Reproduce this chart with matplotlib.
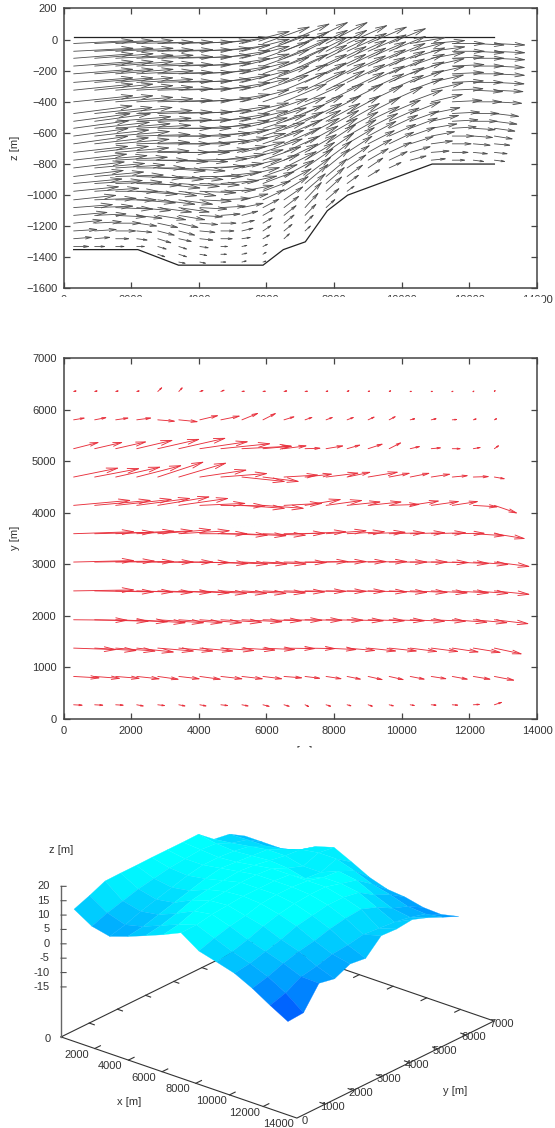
import numpy as np
import matplotlib
matplotlib.use('Agg')
import matplotlib.pyplot as plt
from matplotlib.colors import LinearSegmentedColormap, Normalize
from matplotlib.patches import Rectangle
from mpl_toolkits.mplot3d import proj3d

plt.rcParams['font.family'] = ['Liberation Sans', 'DejaVu Sans']

W, H = 555, 1128

# arrow tails along x, shared by the two top plots
x_tails = [300, 922, 1544, 2166, 2788, 3410, 4032, 4654, 5276, 5898, 6520,
           7142, 7764, 8386, 9008, 9630, 10252, 10874, 11496, 12118, 12740]

# top plot: x-z section, arrow rows and components (in units of 10 m)
z_rows = [-25, -75, -120, -170, -220, -275, -325, -400, -475, -525, -570, -620,
          -670, -725, -775, -825, -880, -925, -975, -1030, -1080, -1130, -1180,
          -1230, -1280, -1330, -1380, -1430]

section_u = [
    [181,178,175,172,168,163,155,150,145,142,138,130,126,122,118,112,108,104,100,96,95],
    [181,178,175,172,168,163,155,150,145,142,137,130,125,121,117,112,108,104,100,96,95],
    [181,178,175,172,168,163,156,150,145,141,136,129,124,120,116,111,107,103,99,96,95],
    [181,178,175,172,168,163,156,150,145,141,135,128,123,119,115,110,106,102,99,95,94],
    [180,178,175,172,168,163,156,150,145,140,134,127,122,118,114,109,105,102,98,94,94],
    [180,177,174,171,167,163,156,150,145,140,133,126,120,116,112,108,104,100,97,93,93],
    [180,177,174,171,167,163,156,150,144,139,132,124,118,114,110,106,102,99,96,92,90],
    [180,177,174,171,167,163,157,150,144,138,130,122,115,110,107,103,100,97,93,89,86],
    [178,175,172,169,166,163,157,150,143,136,127,117,108,103,100,97,94,90,86,81,77],
    [172,170,168,166,164,161,156,149,141,133,124,113,105,100,97,93,90,86,81,76,72],
    [168,167,166,165,163,160,155,148,139,131,121,110,101,96,92,89,85,81,76,70,66],
    [166,165,164,163,161,158,153,146,137,128,118,106,97,90,87,83,79,74,68,62,58],
    [165,164,163,162,160,157,152,144,134,125,114,102,92,85,82,77,73,68,61,55,51],
    [165,164,162,160,158,155,149,141,131,121,110,97,86,78,74,70,64,58,52,47,43],
    [162,160,158,156,154,150,145,137,127,117,105,92,80,70,64,58,52,47,42,36,36],
    [155,153,150,148,146,142,138,131,122,112,100,87,74,60,48,40],
    [152,150,146,143,140,136,132,125,116,106,93,80,66,50,38],
    [148,146,142,137,130,125,122,117,108,97,85,72,58,38],
    [138,136,130,125,120,115,112,108,98,86,76,64,50,25],
    [130,128,125,120,115,105,98,92,82,68,60,52,42],
    [120,118,115,105,105,95,85,78,68,52,48,42,30],
    [104,98,94,80,88,82,72,62,52,40,40,36,25],
    [89,84,79,64,64,62,58,50,42,32,34,28],
    [74,69,64,50,54,52,50,44,38,28,28,20],
    [58,50,44,36,44,42,44,39,30,24,20],
    [50,35,30,28,30,28,30,25,20,18],
    [0,0,0,0,26,28,26,22,20,14],
    [0,0,0,0,0,24,22,20,18,14],
]

section_w = [
    [2,2,2,1,1,1,2,4,8,11,13,14,14,12,11,10,4,2,0,-1,-1],
    [2,2,2,1,1,1,2,4,8,11,13,14,14,12,11,10,6,3,0,-1,-1],
    [3,3,2,2,1,1,2,5,8,11,13,14,13,12,11,10,7,4,1,0,-1],
    [3,3,3,2,1,1,2,5,8,11,13,14,13,12,11,10,8,5,1,0,-1],
    [3,3,3,2,1,1,2,5,8,11,13,13,13,12,11,10,8,5,1,0,-1],
    [3,3,3,2,1,1,2,5,8,11,12,13,13,12,11,10,8,5,1,0,-1],
    [4,4,3,2,1,1,2,5,8,10,12,13,13,12,11,10,8,5,1,-1,-1],
    [4,4,3,2,1,1,2,5,8,10,12,12,12,12,11,10,8,5,1,0,-1],
    [5,4,4,2,1,1,2,5,7,10,11,12,12,12,11,9,8,4,1,0,-2],
    [5,5,3,2,1,1,2,5,7,9,11,12,12,12,10,9,7,4,1,0,-2],
    [5,4,3,2,0,0,2,5,7,9,11,12,12,11,10,9,7,3,1,-1,-2],
    [5,4,3,1,0,0,2,4,7,9,11,12,12,11,10,8,6,3,0,-1,-2],
    [5,4,3,1,0,0,2,4,7,9,11,12,13,11,9,8,5,2,0,-1,-1],
    [4,4,3,1,0,0,2,4,7,9,11,12,13,11,9,7,4,1,0,-1,-1],
    [4,3,2,0,-1,-1,1,4,7,9,11,12,13,10,8,6,3,1,0,-1,-1],
    [4,3,2,0,-2,-2,1,3,6,9,11,13,13,9,7,4],
    [4,3,1,-1,-2,-2,0,3,6,8,11,13,12,8,5],
    [3,2,1,-1,-3,-2,-1,2,5,8,10,13,11,6],
    [3,2,0,-2,-3,-3,-1,1,4,7,10,12,10,4],
    [3,1,0,-2,-3,-3,-1,1,4,7,9,12,8],
    [2,1,-1,-2,-3,-3,-1,1,3,6,8,10,6],
    [2,1,-1,-2,-3,-3,-1,1,3,5,7,8,5],
    [2,1,0,-2,-3,-3,-1,0,2,4,6,6],
    [1,1,0,-1,-3,-3,-1,0,2,4,5,4],
    [1,1,0,-1,-3,-2,-1,0,1,3,4],
    [0,0,0,0,-2,-2,-1,0,1,2],
    [0,0,0,0,-2,-2,-1,0,1,2],
    [0,0,0,0,0,-1,-1,0,1,1],
]

surface_x = [300, 12740]
surface_z_top = 15
bottom_x = [300, 2200, 3400, 5900, 6500, 7150, 7800, 8400, 10900, 12740]
bottom_z = [-1350, -1350, -1450, -1450, -1350, -1300, -1100, -1000, -800, -800]

# middle plot: x-y plan view, arrow rows and components (in units of 10 m)
y_rows = [6350, 5800, 5240, 4690, 4140, 3590, 3040, 2480, 1920, 1370, 820, 270]

plan_u = [
    [13,13,13,13,16,14,15,15,13,13,14,13,11,11,10,10,9,9,7,6,6],
    [37,39,42,47,55,60,58,60,52,42,35,26,24,24,23,23,19,20,19,14,12],
    [78,86,94,110,127,142,146,150,152,89,71,50,55,43,47,39,33,33,29,26,17],
    [136,136,136,136,139,144,142,141,131,110,105,84,100,73,92,65,61,60,50,50,35],
    [172,170,170,162,157,150,139,136,131,125,117,110,111,103,103,94,89,86,80,76,71],
    [183,180,178,170,162,155,145,143,136,131,126,126,124,116,115,110,108,107,100,97,94],
    [183,182,177,173,169,155,148,144,139,133,131,133,124,121,120,117,115,115,113,108,108],
    [183,180,175,170,163,155,144,141,136,131,126,126,124,118,120,117,115,112,113,108,108],
    [164,164,159,149,141,134,129,126,124,120,118,115,115,113,113,110,107,107,108,105,105],
    [130,128,122,114,111,106,103,103,103,99,96,94,94,87,87,86,84,84,82,85,85],
    [81,79,75,72,66,66,66,68,66,61,58,49,50,45,47,47,47,49,50,55,63],
    [31,30,28,25,26,24,24,26,24,24,21,16,19,17,18,18,18,20,22,24,27],
]

plan_v = [
    [2,2,2,2,10,10,3,4,1,1,2,1,2,3,2,3,1,1,2,3,5],
    [4,5,4,4,-3,-4,9,8,14,14,7,6,6,6,7,8,3,3,1,3,4],
    [13,13,14,17,19,21,14,10,5,5,6,1,6,8,10,13,5,2,0,3,8],
    [18,17,20,23,30,28,14,7,-9,-9,4,6,8,10,10,8,8,6,3,1,-4],
    [10,10,12,14,17,14,4,-1,-6,-6,4,12,10,7,7,2,9,8,8,-3,-16],
    [4,3,5,6,8,6,0,-3,-4,-3,1,4,6,4,3,2,2,2,1,-4,-10],
    [3,2,1,0,0,-1,-3,-4,-4,-4,-1,1,1,1,1,0,0,-1,-3,-5,-9],
    [2,-2,-2,-3,-3,-4,-5,-5,-5,-4,-2,-1,-1,-1,-2,-3,-3,-4,-4,-5,-7],
    [-1,-3,-4,-6,-6,-6,-6,-5,-4,-2,-1,-1,-1,-2,-2,-2,-3,-3,-5,-6,-8],
    [-3,-5,-6,-8,-6,-6,-6,-5,-4,-3,-1,-1,-3,-5,-6,-6,-7,-7,-8,-9,-12],
    [-3,-4,-4,-5,-6,-5,-6,-5,-5,-5,-3,-4,-5,-6,-7,-7,-6,-5,-6,-6,-8],
    [-1,-1,-1,-3,-2,-3,-3,-2,-3,-4,-4,-5,-4,-3,-4,-3,-2,-1,-1,1,6],
]

# bottom plot: surface elevation
grid_x = [300, 1358, 2417, 3475, 4533, 5592, 6650, 7708, 8767, 9825, 10883, 11942, 13000]
grid_y = [280, 832, 1384, 1936, 2488, 3040, 3592, 4144, 4696, 5248, 5800, 6350]
elevation = [
    [11.3, 7.5, 6.1, 8.2, 10.6, 13.1, 15.9, 11.7, 10, 8.2, 5.1, 1.3, -2.2],
    [13.4, 9.5, 7.5, 9, 11.5, 14, 16, 13.5, 11, 9, 6.5, 3, -1.8],
    [15.8, 11, 9.5, 10.5, 13, 16, 17, 15, 12.5, 10.5, 8.5, 6, 5.8],
    [15.9, 12.5, 11, 12, 15, 17, 17.5, 16, 14.5, 12, 10, 7, 4.7],
    [15.9, 13.5, 12.5, 13.5, 16, 17.5, 18, 17.5, 16, 14, 11, 8.5, 7.2],
    [16, 14.5, 14, 15, 16.5, 18, 18, 18, 17, 15, 12.5, 9, 6.5],
    [16, 15, 15, 16, 17, 18, 18, 18, 17.5, 16, 13.5, 10, 11.7],
    [16, 15.5, 15, 15.5, 16.5, 17.5, 17.5, 17.5, 17.5, 16, 14, 9.5, 11.4],
    [16.1, 15, 14.5, 15, 15.5, 15, 13.5, 16, 16, 15, 12, 9, 12],
    [11.7, 12.5, 13.5, 14.5, 14.5, 13, 13, 15.5, 14.5, 11.5, 9, 8, 10],
    [10.8, 11, 11, 12, 14, 15, 15, 13, 10.5, 9, 7, 6.5, 7.5],
    [7.5, 7.5, 7.5, 8.9, 12.4, 14.2, 11.2, 8, 6, 5.4, 4, 3.7, 5.1],
]

x_ticks = [0, 2000, 4000, 6000, 8000, 10000, 12000, 14000]
z_ticks = [200, 0, -200, -400, -600, -800, -1000, -1200, -1400, -1600]
y_ticks = [0, 1000, 2000, 3000, 4000, 5000, 6000, 7000]
elev_ticks = [20, 15, 10, 5, 0, -5, -10, -15]
x_ticks_3d = [2000, 4000, 6000, 8000, 10000, 12000, 14000]

TEXT = '#333333'
FRAME = '#444444'


def add_axes_px(left, right, top, bottom):
    return fig.add_axes([left / W, 1 - bottom / H, (right - left) / W, (bottom - top) / H])


def fig_text(px, py, label, **kw):
    fig.text(px / W, 1 - py / H, label, fontsize=8, color=TEXT, ha='center', va='center', **kw)


def style_axes(ax, pad):
    ax.tick_params(direction='in', top=True, right=True, length=4, width=0.9, color=FRAME,
                   labelsize=8, labelcolor=TEXT, pad=pad)
    for s in ax.spines.values():
        s.set_linewidth(1.1)
        s.set_color(FRAME)


def draw_arrows(ax, rows, table_a, table_b, color, lw, floor=None):
    for r, row_a, row_b in zip(rows, table_a, table_b):
        for x, a, b in zip(x_tails, row_a, row_b):
            if a == 0:
                continue
            if floor is not None and r < np.interp(x, *floor):
                continue
            tail = ax.transData.transform((x, r))
            tip = ax.transData.transform((x + a * 10, r + b * 10))
            length = np.hypot(*(tip - tail))
            ax.annotate('', xy=(x + a * 10, r + b * 10), xytext=(x, r), annotation_clip=False,
                        arrowprops=dict(arrowstyle='->,head_length=0.8,head_width=0.17',
                                        mutation_scale=10 * min(1, length / 38),
                                        color=color, lw=lw, shrinkA=0, shrinkB=0))


fig = plt.figure(figsize=(W / 100, H / 100), dpi=100)

# x-z section
ax1 = add_axes_px(63.5, 537, 8.5, 288.5)
ax1.set_xlim(0, 14000)
ax1.set_ylim(-1600, 200)
ax1.set_xticks(x_ticks)
ax1.set_yticks(z_ticks)
style_axes(ax1, 4.5)
ax1.plot(surface_x, [surface_z_top, surface_z_top], color='#222222', lw=0.9)
ax1.plot(bottom_x, bottom_z, color='#222222', lw=0.9)
draw_arrows(ax1, z_rows, section_u, section_w, '#4d4d4d', 0.6, floor=(bottom_x, bottom_z))
fig_text(15, 148, 'z [m]', rotation=90)

# x-y plan view
ax2 = add_axes_px(63.5, 537, 358, 718.7)
ax2.set_xlim(0, 14000)
ax2.set_ylim(0, 7000)
ax2.set_xticks(x_ticks)
ax2.set_yticks(y_ticks)
style_axes(ax2, 5)
draw_arrows(ax2, y_rows, plan_u, plan_v, '#e8303c', 0.65)
fig_text(15, 538, 'y [m]', rotation=90)
fig_text(300, 751, 'x [m]')

# surface, orthographic view matched to the base of the box
Z_BASE = -32.4
ax3 = fig.add_axes([0.05, 0.02, 0.9, 0.3], projection='3d', computed_zorder=False)
ax3.set_proj_type('ortho')
ax3.view_init(elev=24.3, azim=-50.1)
ax3.set_box_aspect((307, 307, 165))
ax3.set_xlim(0, 14000)
ax3.set_ylim(0, 7000)
ax3.set_zlim(Z_BASE, 20)
ax3.set_axis_off()

X, Y = np.meshgrid(grid_x, grid_y)
Z = np.array(elevation)
cells = (Z[:-1, :-1] + Z[1:, :-1] + Z[:-1, 1:] + Z[1:, 1:]) / 4
blues = LinearSegmentedColormap.from_list('surf', [(0, 0.31, 1), (0, 1, 1)])
ax3.plot_surface(X, Y, Z, facecolors=blues(Normalize(-2, 15.5)(cells)), rstride=1, cstride=1,
                 shade=False, linewidth=0.2, antialiased=True, zorder=3)

line_kw = dict(color='#333333', lw=0.8, zorder=1)
ax3.plot([0, 14000, 14000, 0, 0], [0, 0, 7000, 7000, 0], [Z_BASE] * 5, **line_kw)
for tx in x_ticks_3d[:-1]:
    ax3.plot([tx, tx], [0, 200], [Z_BASE, Z_BASE], **line_kw)
    ax3.plot([tx, tx], [7000, 6800], [Z_BASE, Z_BASE], **line_kw)
for ty in y_ticks[1:-1]:
    ax3.plot([14000, 13700], [ty, ty], [Z_BASE, Z_BASE], **line_kw)
    ax3.plot([0, 300], [ty, ty], [Z_BASE, Z_BASE], **line_kw)
ax3.plot([0, 0], [0, 0], [Z_BASE, 20], color='#666666', lw=1.0, zorder=1)
for tz in elev_ticks:
    ax3.plot([0, 175], [0, 73], [tz, tz], color='#555555', lw=0.8, zorder=1)
    ax3.text(-390, -165, tz, str(tz), fontsize=8, color=TEXT, ha='right', va='center', zorder=4)

for tx in x_ticks_3d:
    ax3.text(tx, -650, Z_BASE + 1, str(tx), fontsize=8, color=TEXT, ha='center', va='center', zorder=4)
ax3.text(-600, -100, Z_BASE - 1.5, '0', fontsize=8, color=TEXT, ha='center', va='center', zorder=4)
for ty in y_ticks:
    ax3.text(14450, ty, Z_BASE, str(ty), fontsize=8, color=TEXT, ha='center', va='center', zorder=4)

fig_text(61, 850, 'z [m]')
fig_text(129, 1102, 'x [m]')
fig_text(455, 1091, 'y [m]')

# move the 3d axes until the corners of its base land where the reference has them
corner_world = [(0, 0, Z_BASE), (14000, 0, Z_BASE), (14000, 7000, Z_BASE)]
corner_px = np.array([(61, H - 1037), (297, H - 1118), (494, H - 1021)], dtype=float)
for _ in range(4):
    fig.canvas.draw()
    M = ax3.get_proj()
    now = []
    for c in corner_world:
        px, py, _z = proj3d.proj_transform(c[0], c[1], c[2], M)
        now.append(ax3.transData.transform((px, py)))
    now = np.array(now)
    scale = np.ptp(corner_px[:, 0]) / np.ptp(now[:, 0])
    shift = corner_px.mean(axis=0) - now.mean(axis=0)
    pos = ax3.get_position()
    new_w = pos.width * scale
    new_h = pos.height * scale
    cx = pos.x0 + pos.width / 2 + shift[0] / W
    cy = pos.y0 + pos.height / 2 + shift[1] / H
    ax3.set_position([cx - new_w / 2, cy - new_h / 2, new_w, new_h])

# the source image cuts these labels off
masks = [(0, 297.3, 541.5, 340), (200, 747.7, 400, 770)]
for x0, y0, x1, y1 in masks:
    fig.add_artist(Rectangle((x0 / W, 1 - y1 / H), (x1 - x0) / W, (y1 - y0) / H,
                             transform=fig.transFigure, color='white', zorder=5))

fig.savefig('out.png', dpi=100)
